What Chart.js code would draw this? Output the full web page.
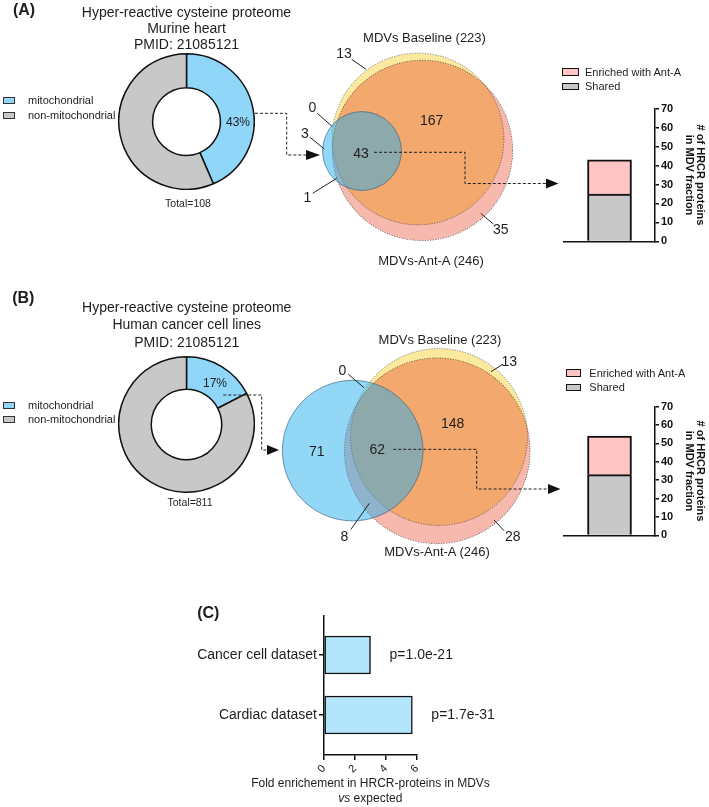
<!DOCTYPE html>
<html>
<head>
<meta charset="utf-8">
<script src="https://cdn.jsdelivr.net/npm/chart.js"></script>
<style>
html,body{margin:0;padding:0;background:#fff;}
body{width:709px;height:807px;position:relative;overflow:hidden;font-family:'Liberation Sans',Arial,sans-serif;color:#1e1e1e;}
canvas{position:absolute;}
.t{position:absolute;white-space:nowrap;transform:translate(-50%,-50%);line-height:1;}
.l{position:absolute;white-space:nowrap;transform:translate(0,-50%);line-height:1;}
.b{font-weight:bold;}
.box{position:absolute;box-sizing:border-box;}
svg{position:absolute;left:0;top:0;}
</style>
</head>
<body>
<script>
// ---------------- DATA ----------------
const donutCategories = ['mitochondrial', 'non-mitochondrial'];
const donutA_values = [47, 61];    // Murine heart, Total=108 (43%)
const donutB_values = [141, 670];  // Human cancer cell lines, Total=811 (17%)

const vennSetNames = ['Mitochondrial HRCR', 'MDVs-Ant-A', 'MDVs Baseline'];
const vennA_setSizes = [47, 246, 223];
const vennB_setSizes = [141, 246, 223];

const barSeries = ['Shared', 'Enriched with Ant-A'];
const barA_values = [25, 18];
const barB_values = [33, 21];
const barAxisTitle = ['# of HRCR proteins', 'in MDV fraction'];

const enrichCategories = ['Cancer cell dataset', 'Cardiac dataset'];
const enrichValues = [3.0, 5.7];
const enrichPValues = ['p=1.0e-21', 'p=1.7e-31'];
</script>

<canvas id="donutA" width="137" height="137" style="left:118px;top:53px"></canvas>
<canvas id="donutB" width="137" height="137" style="left:118px;top:356px"></canvas>
<canvas id="vennA" width="280" height="280" style="left:278px;top:-1px"></canvas>
<canvas id="vennB" width="340" height="340" style="left:269px;top:267px"></canvas>
<canvas id="barA" width="149" height="150" style="left:560px;top:100px"></canvas>
<canvas id="barB" width="149" height="146" style="left:560px;top:398px"></canvas>
<canvas id="enrich" width="320" height="180" style="left:190px;top:600px"></canvas>

<svg width="709" height="807" viewBox="0 0 709 807">
  <g stroke="#222" stroke-width="1" fill="none" stroke-dasharray="3,2">
    <path d="M255,113.3 H286.7 V155 H306"/>
    <path d="M374,152.3 H465 V183.5 H546"/>
    <path d="M223.3,395 H261.7 V450 H268"/>
    <path d="M393.3,449.3 H476.7 V489 H548"/>
  </g>
  <g fill="#111">
    <polygon points="306,150 320,155 306,160"/>
    <polygon points="546,178.5 558.5,183.5 546,188.5"/>
    <polygon points="267,445 279,450 267,455"/>
    <polygon points="548,484 560.5,489 548,494"/>
  </g>
  <g stroke="#222" stroke-width="1">
    <line x1="351.7" y1="59.3" x2="366" y2="69.3"/>
    <line x1="317.3" y1="113.3" x2="331.7" y2="126"/>
    <line x1="310" y1="137.3" x2="324.3" y2="149"/>
    <line x1="312.7" y1="193.3" x2="336.7" y2="178.3"/>
    <line x1="480.7" y1="213.3" x2="493.3" y2="224"/>
    <line x1="348.3" y1="374.3" x2="364" y2="387.7"/>
    <line x1="503.3" y1="364" x2="491" y2="371.7"/>
    <line x1="351" y1="529.3" x2="369.3" y2="503.3"/>
    <line x1="494" y1="520" x2="504" y2="530.7"/>
  </g>
</svg>

<!-- Panel A text -->
<div class="t b" style="left:24px;top:10px;font-size:16px">(A)</div>
<div class="t" style="left:186.5px;top:12px;font-size:14px">Hyper-reactive cysteine proteome</div>
<div class="t" style="left:186.5px;top:28px;font-size:14px">Murine heart</div>
<div class="t" style="left:186.5px;top:44px;font-size:14px">PMID: 21085121</div>
<div class="box" style="left:3px;top:96.5px;width:12px;height:7px;background:#8fd6f9;border:1.2px solid #333"></div>
<div class="l" style="left:28px;top:100px;font-size:11px">mitochondrial</div>
<div class="box" style="left:3px;top:111.5px;width:12px;height:7px;background:#c8c8c8;border:1.2px solid #333"></div>
<div class="l" style="left:28px;top:115px;font-size:11px">non-mitochondrial</div>
<div class="t" style="left:238px;top:122px;font-size:12px">43%</div>
<div class="t" style="left:188px;top:203px;font-size:10.5px">Total=108</div>

<div class="t" style="left:424.5px;top:37px;font-size:13px">MDVs Baseline (223)</div>
<div class="t" style="left:431px;top:260px;font-size:13px">MDVs-Ant-A (246)</div>
<div class="t" style="left:344px;top:53px;font-size:14px">13</div>
<div class="t" style="left:312.3px;top:107.3px;font-size:14px">0</div>
<div class="t" style="left:305px;top:132.7px;font-size:14px">3</div>
<div class="t" style="left:361px;top:153.3px;font-size:14px">43</div>
<div class="t" style="left:307.3px;top:196.7px;font-size:14px">1</div>
<div class="t" style="left:431.7px;top:120px;font-size:14px">167</div>
<div class="t" style="left:500.7px;top:229.3px;font-size:14px">35</div>

<div class="box" style="left:562px;top:68.3px;width:17px;height:7.5px;background:#ffc4c4;border:1.5px solid #111"></div>
<div class="l" style="left:585px;top:72px;font-size:11px">Enriched with Ant-A</div>
<div class="box" style="left:562px;top:82.7px;width:17px;height:7.5px;background:#c8c8c8;border:1.5px solid #111"></div>
<div class="l" style="left:585px;top:86px;font-size:11px">Shared</div>

<!-- Panel B text -->
<div class="t b" style="left:23.3px;top:298.3px;font-size:16px">(B)</div>
<div class="t" style="left:186.7px;top:307.3px;font-size:14px">Hyper-reactive cysteine proteome</div>
<div class="t" style="left:186.7px;top:324.3px;font-size:14px">Human cancer cell lines</div>
<div class="t" style="left:186.7px;top:341.7px;font-size:14px">PMID: 21085121</div>
<div class="box" style="left:3px;top:401.5px;width:12px;height:7px;background:#8fd6f9;border:1.2px solid #333"></div>
<div class="l" style="left:28px;top:405px;font-size:11px">mitochondrial</div>
<div class="box" style="left:3px;top:415.5px;width:12px;height:7px;background:#c8c8c8;border:1.2px solid #333"></div>
<div class="l" style="left:28px;top:419px;font-size:11px">non-mitochondrial</div>
<div class="t" style="left:215px;top:382.7px;font-size:12px">17%</div>
<div class="t" style="left:190px;top:501.7px;font-size:10.5px">Total=811</div>

<div class="t" style="left:440px;top:339.3px;font-size:13px">MDVs Baseline (223)</div>
<div class="t" style="left:437px;top:551px;font-size:13px">MDVs-Ant-A (246)</div>
<div class="t" style="left:342.3px;top:370px;font-size:14px">0</div>
<div class="t" style="left:509.3px;top:361px;font-size:14px">13</div>
<div class="t" style="left:316.7px;top:451px;font-size:14px">71</div>
<div class="t" style="left:377.3px;top:449px;font-size:14px">62</div>
<div class="t" style="left:452.7px;top:423.3px;font-size:14px">148</div>
<div class="t" style="left:344.3px;top:535.7px;font-size:14px">8</div>
<div class="t" style="left:512.7px;top:535.7px;font-size:14px">28</div>

<div class="box" style="left:566px;top:369.3px;width:15px;height:7.5px;background:#ffc4c4;border:1.5px solid #111"></div>
<div class="l" style="left:589.3px;top:373.3px;font-size:11px">Enriched with Ant-A</div>
<div class="box" style="left:566px;top:383.5px;width:15px;height:7.5px;background:#c8c8c8;border:1.5px solid #111"></div>
<div class="l" style="left:589.3px;top:387.3px;font-size:11px">Shared</div>

<!-- Panel C text -->
<div class="t b" style="left:208.3px;top:613.3px;font-size:16px">(C)</div>
<div class="t" style="left:370.5px;top:783.3px;font-size:12px">Fold enrichement in HRCR-proteins in MDVs</div>
<div class="t" style="left:370.3px;top:798.3px;font-size:12px"><i>vs</i> expected</div>

<script>
Chart.defaults.font.family = "'Liberation Sans', Arial, sans-serif";
Chart.defaults.color = '#1e1e1e';

// Layout (positions only) for the Venn circles, in scale units (centre offsets from the Baseline circle)
const vennA_layout = { centers: [[-9.74, 2.09], [0.78, 1.98], [0, 0]], unitPx: 5.75 };
const vennB_layout = { centers: [[-14.58, 2.30], [-0.30, 2.33], [0, 0]], unitPx: 5.92 };
const vennStyles = [
  { bg: 'rgba(30,172,238,0.48)', border: 'rgba(60,100,130,0.85)', dash: null, blend: null },
  { bg: '#f7b8ae', border: 'rgba(70,70,70,0.75)', dash: [1.3, 1.3], blend: 'multiply' },
  { bg: '#fbe9a0', border: 'rgba(70,70,70,0.75)', dash: [1.3, 1.3], blend: null }
];
const donutColors = ['#8fd6f9', '#c8c8c8'];
const barColors = ['#c8c8c8', '#ffc4c4'];

function makeDonut(id, values, cutout) {
  new Chart(document.getElementById(id), {
    type: 'doughnut',
    data: { labels: donutCategories, datasets: [{ data: values, backgroundColor: donutColors, borderColor: '#111', borderWidth: 1.5 }] },
    options: { responsive: false, animation: false, events: [], cutout: cutout,
      layout: { padding: 0 }, plugins: { legend: { display: false }, tooltip: { enabled: false } } }
  });
}

const vennBlend = {
  id: 'vennBlend',
  beforeDatasetDraw(chart, args) {
    const ds = chart.data.datasets[args.index];
    chart.ctx.save();
    if (ds.blend) chart.ctx.globalCompositeOperation = ds.blend;
    if (ds.dash) chart.ctx.setLineDash(ds.dash);
  },
  afterDatasetDraw(chart) { chart.ctx.restore(); }
};

function vennRadius(ctx) {
  const sx = ctx.chart.scales.x;
  return Math.abs(sx.getPixelForValue(Math.sqrt(ctx.dataset.setSize)) - sx.getPixelForValue(0));
}

function makeVenn(id, sizes, layout) {
  const canvas = document.getElementById(id);
  const half = canvas.width / 2 / layout.unitPx;
  new Chart(canvas, {
    type: 'scatter',
    data: {
      datasets: sizes.map((n, i) => ({
        label: vennSetNames[i],
        data: [{ x: layout.centers[i][0], y: layout.centers[i][1] }],
        setSize: n,
        pointBackgroundColor: vennStyles[i].bg,
        pointBorderColor: vennStyles[i].border,
        pointBorderWidth: 0.8,
        pointRadius: vennRadius,
        pointHoverRadius: vennRadius,
        blend: vennStyles[i].blend,
        dash: vennStyles[i].dash,
        clip: false
      }))
    },
    options: {
      responsive: false, animation: false, events: [],
      layout: { padding: 0 },
      plugins: { legend: { display: false }, tooltip: { enabled: false } },
      scales: {
        x: { type: 'linear', min: -half, max: half, display: false },
        y: { type: 'linear', min: -half, max: half, reverse: true, display: false }
      }
    },
    plugins: [vennBlend]
  });
}

function makeStackBar(id, values) {
  new Chart(document.getElementById(id), {
    type: 'bar',
    data: {
      labels: [''],
      datasets: barSeries.map((name, i) => ({
        label: name, data: [values[i]], backgroundColor: barColors[i],
        borderColor: '#111', borderWidth: 2, barThickness: 44
      }))
    },
    options: {
      responsive: false, animation: false, events: [],
      layout: { padding: { left: 4, top: 7, bottom: 6, right: 0 } },
      plugins: { legend: { display: false }, tooltip: { enabled: false } },
      scales: {
        x: { stacked: true, grid: { display: false }, ticks: { display: false },
             border: { display: true, color: '#111', width: 1.5 },
             afterFit: (s) => { s.height = 0; } },
        y: { stacked: true, position: 'right', min: 0, max: 70,
             ticks: { stepSize: 10, font: { size: 11, weight: 'bold' }, color: '#111', padding: 2 },
             grid: { drawOnChartArea: false, tickLength: 4, color: '#111', lineWidth: 1.5 },
             border: { display: true, color: '#111', width: 1.5 },
             title: { display: true, text: barAxisTitle, color: '#111',
                      font: { size: 11, weight: 'bold', lineHeight: 0.95 }, padding: { top: 4, bottom: 0 } },
             afterFit: (s) => { s.width = 54; } }
      }
    }
  });
}

const pValuePlugin = {
  id: 'pValues',
  afterDatasetsDraw(chart) {
    const ctx = chart.ctx;
    const meta = chart.getDatasetMeta(0);
    ctx.save();
    ctx.font = "14px 'Liberation Sans', Arial, sans-serif";
    ctx.fillStyle = '#1e1e1e';
    ctx.textBaseline = 'middle';
    ctx.textAlign = 'left';
    meta.data.forEach((bar, i) => ctx.fillText(enrichPValues[i], bar.x + 19, bar.y));
    ctx.restore();
  }
};

function makeEnrich() {
  new Chart(document.getElementById('enrich'), {
    type: 'bar',
    data: {
      datasets: [{
        label: 'Fold enrichment',
        data: enrichValues.map((v, i) => ({ x: v, y: i + 1 })),
        backgroundColor: '#b3e5fc', borderColor: '#111', borderWidth: 1.5,
        borderSkipped: false, barThickness: 38
      }]
    },
    options: {
      indexAxis: 'y',
      responsive: false, animation: false, events: [],
      layout: { padding: { left: 0, top: 16, bottom: 5, right: 93 } },
      plugins: { legend: { display: false }, tooltip: { enabled: false } },
      scales: {
        x: { type: 'linear', min: 0, max: 6,
             ticks: { stepSize: 2, minRotation: 45, maxRotation: 45, font: { size: 11 }, color: '#111', padding: 2 },
             grid: { drawOnChartArea: false, tickLength: 5, color: '#111', lineWidth: 1.5 },
             border: { display: true, color: '#111', width: 1.5 },
             afterFit: (s) => { s.height = 20; } },
        y: { type: 'linear', min: 0.35, max: 2.667, reverse: true, offset: false,
             afterBuildTicks: (s) => { s.ticks = enrichCategories.map((c, i) => ({ value: i + 1 })); },
             ticks: { callback: (v, i) => enrichCategories[i], font: { size: 14 }, color: '#1e1e1e', padding: 2 },
             grid: { offset: false, drawOnChartArea: false, tickLength: 5, color: '#111', lineWidth: 1.5 },
             border: { display: true, color: '#111', width: 1.5 },
             afterFit: (s) => { s.width = 134; } }
      }
    },
    plugins: [pValuePlugin]
  });
}

makeDonut('donutA', donutA_values, '50%');
makeDonut('donutB', donutB_values, '52%');
makeVenn('vennA', vennA_setSizes, vennA_layout);
makeVenn('vennB', vennB_setSizes, vennB_layout);
makeStackBar('barA', barA_values);
makeStackBar('barB', barB_values);
makeEnrich();
</script>
</body>
</html>
